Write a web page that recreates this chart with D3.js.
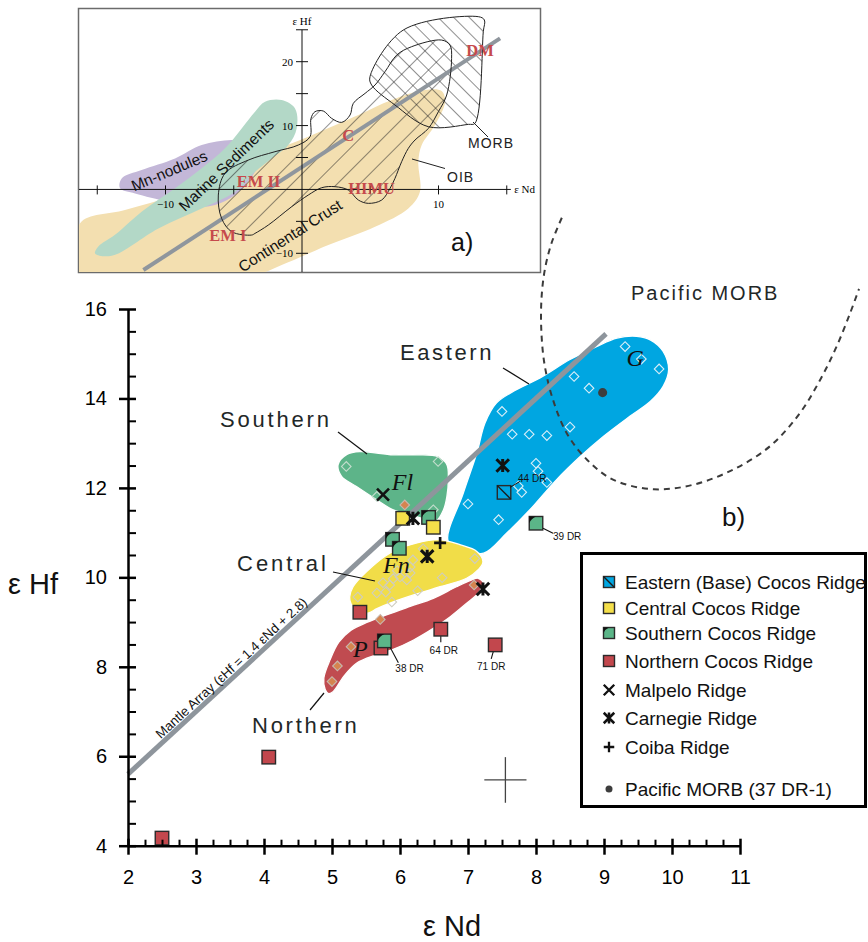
<!DOCTYPE html>
<html><head><meta charset="utf-8">
<script src="https://cdn.jsdelivr.net/npm/d3@7"></script>
<style>body{margin:0;background:#fff}svg{display:block}text{font-family:"Liberation Sans",Arial,sans-serif}</style>
</head><body><svg id="c" width="868" height="942"></svg>
<script>
// ---------------- DATA (εNd, εHf) ----------------
const xTicks = [2,3,4,5,6,7,8,9,10,11];
const yTicks = [4,6,8,10,12,14,16];

const regionEastern = [[6.71,10.80],[6.93,11.88],[7.13,12.78],[7.25,13.45],[7.42,13.90],[7.67,14.16],[8.06,14.46],[8.50,14.87],[8.89,15.16],[9.19,15.35],[9.48,15.39],[9.68,15.31],[9.87,15.05],[9.95,14.64],[9.87,14.27],[9.68,13.93],[9.38,13.60],[8.99,13.15],[8.65,12.70],[8.30,12.18],[7.91,11.51],[7.57,10.99],[7.23,10.54],[6.96,10.62]];
const regionSouthern = [[5.09,12.52],[5.22,12.75],[5.41,12.81],[5.90,12.74],[6.25,12.74],[6.56,12.70],[6.69,12.52],[6.71,12.18],[6.69,11.81],[6.64,11.51],[6.53,11.26],[6.39,11.29],[6.15,11.40],[5.90,11.51],[5.66,11.73],[5.36,12.03],[5.14,12.26]];
const regionCentral = [[5.26,9.56],[5.31,9.79],[5.51,10.13],[5.85,10.54],[6.25,10.77],[6.59,10.84],[6.88,10.73],[7.13,10.58],[7.22,10.35],[7.15,10.17],[6.98,9.98],[6.59,9.79],[6.25,9.63],[5.90,9.45],[5.66,9.30],[5.53,9.20],[5.38,9.25],[5.28,9.41]];
const regionNorthern = [[4.90,7.49],[4.88,7.75],[4.97,8.15],[5.10,8.55],[5.28,8.82],[5.51,8.99],[5.80,9.16],[6.15,9.35],[6.49,9.53],[6.83,9.79],[7.05,9.94],[7.15,9.98],[7.23,9.87],[7.20,9.76],[7.13,9.61],[6.98,9.42],[6.74,9.12],[6.49,8.86],[6.20,8.60],[5.90,8.39],[5.66,8.27],[5.36,8.08],[5.17,7.78],[5.02,7.45],[4.95,7.40]];

const easternField = [[9.31,15.16],[9.55,14.88],[9.81,14.66],[8.56,14.49],[8.78,14.23],[7.50,13.71],[7.65,13.20],[7.90,13.20],[8.16,13.17],[8.50,13.36],[8.00,12.55],[8.03,12.37],[8.16,12.12],[7.74,12.04],[7.79,11.90],[7.00,11.64],[7.45,11.29]];
const centralField = [[5.38,9.56],[5.66,9.65],[5.79,9.67],[5.75,9.88],[5.90,9.97],[6.00,10.01],[6.10,9.94],[6.15,10.10],[6.26,9.70],[6.62,9.99],[5.88,9.45],[6.15,10.23],[6.19,10.39],[6.34,10.64],[7.10,10.42],[5.96,10.15],[5.85,9.83]];
const southernField = [[5.21,12.48],[6.56,12.59],[5.66,11.81],[6.49,11.51]];
const northernField = [[5.00,7.67],[5.08,8.02],[5.28,8.45],[5.71,9.06],[7.09,9.83],[6.07,11.62]];

const easternBase = [{nd:7.53,hf:11.90,label:"44 DR"}];
const centralCocos = [{nd:6.04,hf:11.32},{nd:6.49,hf:11.12}];
const southernCocos = [{nd:6.42,hf:11.34},{nd:5.89,hf:10.85},{nd:5.99,hf:10.65},{nd:5.77,hf:8.58,label:"38 DR"},{nd:8.00,hf:11.21,label:"39 DR"}];
const northernCocos = [{nd:5.41,hf:9.22},{nd:5.72,hf:8.42},{nd:6.60,hf:8.84,label:"64 DR"},{nd:7.40,hf:8.49,label:"71 DR"},{nd:4.07,hf:5.98},{nd:2.50,hf:4.17}];
const malpelo = [{nd:5.75,hf:11.85}];
const carnegie = [{nd:6.19,hf:11.32},{nd:6.40,hf:10.47},{nd:7.51,hf:12.50},{nd:7.22,hf:9.74}];
const coiba = [{nd:6.59,hf:10.77}];
const pacificMorb = [{nd:8.98,hf:14.13}];

const pacificMorbBoundary = [[8.38,18.04],[8.23,17.48],[8.13,16.88],[8.08,16.21],[8.08,15.46],[8.13,14.72],[8.25,13.97],[8.45,13.23],[8.75,12.63],[9.14,12.18],[9.73,11.97],[10.31,12.07],[10.90,12.41],[11.44,12.93],[11.88,13.67],[12.18,14.42],[12.42,15.16],[12.62,15.91],[12.75,16.45]];
const mantleArray = {slope:1.4, intercept:2.8, ndMin:2, ndMax:9.03};
const errorBar = {nd:7.55, hf:5.47, dNd:0.31, dHf:0.51};

const legendItems = ["Eastern (Base) Cocos Ridge","Central Cocos Ridge","Southern Cocos Ridge","Northern Cocos Ridge","Malpelo Ridge","Carnegie Ridge","Coiba Ridge","Pacific MORB (37 DR-1)"];
const legendKinds = ["eastern","central","southern","northern","malpelo","carnegie","coiba","dot"];

// Inset (a) data
const insetTicksX = [-15,-10,-5,5,10,15];
const insetTicksY = [-10,-5,5,10,15,20,25];
const insetTan = [[-16.26,-5.31],[-12.97,-3.23],[-9.30,-0.88],[-6.13,2.25],[-2.95,5.38],[0.46,8.26],[4.13,11.65],[6.57,14.0],[9.01,15.56],[10.23,15.40],[10.48,13.74],[9.74,10.08],[8.77,6.95],[8.52,4.34],[8.64,-0.35],[7.79,-2.97],[5.35,-5.84],[1.93,-8.70],[-1.49,-11.84],[-3.44,-13.41],[-10,-14.5],[-16.26,-14.5]];
const insetSediments = [[-15.16,-10.03],[-13.94,-10.39],[-10.52,-6.10],[-7.35,-2.97],[-4.91,-0.35],[-3.44,2.78],[-2.22,4.86],[-1.00,6.95],[-0.39,9.56],[-0.51,12.69],[-1.49,14.0],[-2.71,13.74],[-3.44,12.17],[-4.42,9.56],[-5.64,6.43],[-7.35,3.30],[-9.30,0.17],[-11.75,-3.49],[-13.70,-7.11],[-14.92,-8.94]];
const insetNodules = [[-13.21,1.73],[-13.33,0.17],[-12.23,-0.62],[-9.79,-1.92],[-7.84,-2.71],[-6.37,-2.45],[-4.91,-0.88],[-3.44,2.78],[-2.95,5.38],[-3.44,7.47],[-5.15,7.73],[-7.35,6.95],[-9.30,4.86],[-11.75,3.04]];
const insetOIB = [[-3.69,-7.14],[-5.15,-6.62],[-5.89,-4.53],[-6.13,-0.88],[-5.64,2.52],[-3.93,4.60],[-1.98,5.91],[-0.27,6.95],[0.59,8.26],[0.66,11.13],[0.95,12.17],[1.56,12.28],[2.17,11.13],[2.91,10.50],[3.52,11.65],[3.76,13.48],[4.62,15.04],[5.35,16.35],[6.08,18.43],[6.94,21.04],[8.03,22.35],[10.23,23.39],[10.84,22.61],[10.96,20.52],[10.60,14.78],[9.99,12.17],[9.26,9.56],[8.28,7.74],[7.79,6.43],[7.30,4.34],[6.81,1.73],[6.45,0.17],[5.84,-1.66],[4.86,-2.18],[4.13,-1.66],[3.39,-0.09],[2.42,0.43],[1.44,0.27],[0.46,-0.88],[-0.76,-2.71],[-2.47,-5.58],[-3.44,-6.88]];
const insetMORB = [[4.98,17.65],[7.42,24.96],[12.92,27.05],[13.36,26.53],[13.28,24.70],[12.67,10.35],[12.19,10.19],[9.26,9.82],[6.81,13.22],[5.10,16.35]];
const insetArray = [[-11.62,-12.62],[14.51,23.65]];
const insetEndmembers = [{name:"DM",nd:13.04,hf:21.72},{name:"C",nd:3.38,hf:8.40},{name:"EM II",nd:-3.18,hf:1.21},{name:"HIMU",nd:5.1,hf:0.17},{name:"EM I",nd:-5.44,hf:-7.14}];

// ---------------- DRAW ----------------
const svg = d3.select("#c");
const defs = svg.append("defs");
const x = d3.scaleLinear().domain([2,11]).range([128,740]);
const y = d3.scaleLinear().domain([4,16]).range([845.7,309]);

const C = {blue:"#00a6e1", green:"#5db489", yellow:"#f1dd48", red:"#c04b50",
           sqYellow:"#f4df4a", sqGreen:"#5bb588", sqRed:"#c2474d", sqBlue:"#00a6e1"};

// ---- Inset (a) ----
const xi = d3.scaleLinear().domain([-10,10]).range([165.5,438.5]);
const yi = d3.scaleLinear().domain([-10,20]).range([253.3,61.7]);
defs.append("clipPath").attr("id","insetClip").append("rect").attr("x",79).attr("y",9).attr("width",461).attr("height",263);
function hatch(id, angle, gap){
  const p = defs.append("pattern").attr("id",id).attr("patternUnits","userSpaceOnUse")
    .attr("width",gap).attr("height",gap).attr("patternTransform",`rotate(${angle})`);
  p.append("line").attr("x1",0).attr("y1",0).attr("x2",0).attr("y2",gap).attr("stroke","#222").attr("stroke-width",1);
}
hatch("hOIB",45,16);
hatch("hMORB",-45,11);

svg.append("rect").attr("x",78.5).attr("y",8.5).attr("width",462).attr("height",264)
  .attr("fill","#fff").attr("stroke","#6b6b6b").attr("stroke-width",1.5);
const inset = svg.append("g").attr("clip-path","url(#insetClip)");
const iline = d3.line().x(d=>xi(d[0])).y(d=>yi(d[1])).curve(d3.curveCatmullRomClosed.alpha(0.5));
inset.append("path").attr("d",iline(insetTan)).attr("fill","#f3dfb0");
inset.append("path").attr("d",iline(insetNodules)).attr("fill","#c3b7d8");
inset.append("path").attr("d",iline(insetSediments)).attr("fill","#b3d8c7");
inset.append("path").attr("d",iline(insetOIB)).attr("fill","url(#hOIB)");
inset.append("path").attr("d",iline(insetMORB)).attr("fill","url(#hMORB)");
inset.append("line").attr("x1",xi(insetArray[0][0])).attr("y1",yi(insetArray[0][1]))
  .attr("x2",xi(insetArray[1][0])).attr("y2",yi(insetArray[1][1]))
  .attr("stroke","#8f969d").attr("stroke-width",4);
inset.append("path").attr("d",iline(insetOIB)).attr("fill","none").attr("stroke","#222").attr("stroke-width",1);
inset.append("path").attr("d",iline(insetMORB)).attr("fill","none").attr("stroke","#222").attr("stroke-width",1);
// inset axes
inset.append("line").attr("x1",xi(-16.6)).attr("x2",xi(15.3)).attr("y1",yi(0)).attr("y2",yi(0)).attr("stroke","#111").attr("stroke-width",1);
inset.append("line").attr("x1",xi(0)).attr("x2",xi(0)).attr("y1",yi(25)).attr("y2",yi(-14)).attr("stroke","#111").attr("stroke-width",1);
insetTicksX.forEach(v=>inset.append("line").attr("x1",xi(v)).attr("x2",xi(v)).attr("y1",yi(0)-4).attr("y2",yi(0)+5).attr("stroke","#111"));
insetTicksY.forEach(v=>inset.append("line").attr("y1",yi(v)).attr("y2",yi(v)).attr("x1",xi(0)-6).attr("x2",xi(0)+6).attr("stroke","#111"));
const serif = '"Liberation Serif","Times New Roman",serif';
[[20],[10],[-10]].forEach(([v])=>inset.append("text").attr("x",xi(0)-9).attr("y",yi(v)+4).attr("text-anchor","end")
  .style("font-family",serif).style("font-size","11px").text(v<0?"−"+Math.abs(v):v));
[-10,10].forEach(v=>inset.append("text").attr("x",xi(v)).attr("y",yi(0)+19).attr("text-anchor","middle")
  .style("font-family",serif).style("font-size","11px").text(v<0?"−"+Math.abs(v):v));
inset.append("text").attr("x",xi(0)).attr("y",yi(25)-5).attr("text-anchor","middle").style("font-family",serif).style("font-size","11px").text("ε Hf");
inset.append("text").attr("x",xi(15.4)+2).attr("y",yi(0)+4).style("font-family",serif).style("font-size","11px").text("ε Nd");
// inset labels
function rotLabel(g, nd, hf, ang, txt){
  g.append("text").attr("transform",`translate(${xi(nd)},${yi(hf)}) rotate(${ang})`)
   .attr("text-anchor","middle").attr("dominant-baseline","central")
   .style("font-size","15.5px").attr("fill","#111").text(txt);
}
rotLabel(inset,-9.72,2.93,-22.9,"Mn-nodules");
rotLabel(inset,-5.55,3.82,-43.9,"Marine Sediments");
rotLabel(inset,-0.88,-7.23,-32.8,"Continental Crust");
insetEndmembers.forEach(e=>inset.append("text").attr("x",xi(e.nd)).attr("y",yi(e.hf))
  .attr("text-anchor","middle").attr("dominant-baseline","central")
  .style("font-family",serif).style("font-weight","bold").style("font-size","16.5px").attr("fill","#c64a4c").text(e.name));
inset.append("line").attr("x1",473).attr("y1",122).attr("x2",488).attr("y2",137).attr("stroke","#222");
inset.append("text").attr("x",468).attr("y",148).style("font-size","14px").style("letter-spacing","1px").attr("fill","#222").text("MORB");
inset.append("line").attr("x1",412).attr("y1",159).attr("x2",445).attr("y2",168.5).attr("stroke","#222");
inset.append("text").attr("x",447).attr("y",182).style("font-size","14px").style("letter-spacing","1px").attr("fill","#222").text("OIB");
inset.append("text").attr("x",451).attr("y",251).style("font-size","25px").attr("fill","#111").text("a)");

// ---- Main plot ----
const rline = d3.line().x(d=>x(d[0])).y(d=>y(d[1])).curve(d3.curveCatmullRomClosed.alpha(0.5));
const plot = svg.append("g");
[[regionEastern,C.blue],[regionSouthern,C.green],[regionCentral,C.yellow],[regionNorthern,C.red]].forEach(([r,c])=>{
  plot.append("path").attr("d",rline(r)).attr("fill",c).attr("stroke","#fff").attr("stroke-width",1.3);
});
const diamond = d3.symbol(d3.symbolSquare, 46);
function diamonds(data, fill, stroke){
  plot.selectAll(null).data(data).join("path").attr("d",diamond)
    .attr("transform",d=>`translate(${x(d[0])},${y(d[1])}) rotate(45)`)
    .attr("fill",fill).attr("stroke",stroke).attr("stroke-width",1.1);
}
diamonds(easternField,"none","#d9eef8");
diamonds(centralField,"none","#cfcdbf");
diamonds(southernField,"none","#c4ddcd");
diamonds(northernField,"#d5844f","#c8b7ae");

// Pacific MORB boundary
plot.append("path").attr("d",d3.line().x(d=>x(d[0])).y(d=>y(d[1])).curve(d3.curveCatmullRom.alpha(0.5))(pacificMorbBoundary))
  .attr("fill","none").attr("stroke","#3b3b3b").attr("stroke-width",2).attr("stroke-dasharray","6,5");

// Mantle array
const ma = d=>mantleArray.slope*d+mantleArray.intercept;
const p1=[x(mantleArray.ndMin),y(ma(mantleArray.ndMin))], p2=[x(mantleArray.ndMax),y(ma(mantleArray.ndMax))];
plot.append("line").attr("x1",p1[0]).attr("y1",p1[1]).attr("x2",p2[0]).attr("y2",p2[1])
  .attr("stroke","#8e959c").attr("stroke-width",5);
const ang = Math.atan2(p2[1]-p1[1],p2[0]-p1[0])*180/Math.PI;
plot.append("text").attr("transform",`translate(${x(3.6)},${y(ma(3.6))}) rotate(${ang})`)
  .attr("x",0).attr("y",-8).attr("text-anchor","middle").attr("dominant-baseline","central")
  .style("font-size","13.3px").attr("fill","#111").text("Mantle Array (εHf = 1.4 εNd + 2.8)");

// Error cross
plot.append("line").attr("x1",x(errorBar.nd-errorBar.dNd)).attr("x2",x(errorBar.nd+errorBar.dNd)).attr("y1",y(errorBar.hf)).attr("y2",y(errorBar.hf)).attr("stroke","#444").attr("stroke-width",1.3);
plot.append("line").attr("x1",x(errorBar.nd)).attr("x2",x(errorBar.nd)).attr("y1",y(errorBar.hf-errorBar.dHf)).attr("y2",y(errorBar.hf+errorBar.dHf)).attr("stroke","#444").attr("stroke-width",1.3);

// Region labels
function regionLabel(txt, px, py, ls, fs){
  plot.append("text").attr("x",px).attr("y",py).style("font-size",fs+"px").style("letter-spacing",ls+"px").attr("fill","#1f2828").text(txt);
}
regionLabel("Eastern",400,359.5,2.6,22);
regionLabel("Southern",220,426.5,2.8,22);
regionLabel("Central",237,571,3.0,22);
regionLabel("Northern",252,733,2.75,22);
regionLabel("Pacific MORB",631,300,2,20);
[[503,368,529,384],[338,432,367,454],[333,572,375,581],[310,710,324,693]].forEach(l=>
  plot.append("line").attr("x1",l[0]).attr("y1",l[1]).attr("x2",l[2]).attr("y2",l[3]).attr("stroke","#111").attr("stroke-width",1.2));
plot.append("text").attr("x",722).attr("y",526).style("font-size","26px").attr("fill","#111").text("b)");
// italic field names
[["G",9.33,14.72],["Fl",5.88,11.96],["Fn",5.75,10.10],["P",5.31,8.23]].forEach(([t,nd,hf])=>
  plot.append("text").attr("x",x(nd)).attr("y",y(hf)).style("font-family",serif).style("font-style","italic").style("font-size","24px").attr("fill","#111").text(t));

// ---- Markers ----
function drawSymbol(g, kind, cx, cy, s){
  const h=s/2;
  if(["eastern","central","southern","northern"].includes(kind)){
    const fill={eastern:C.sqBlue,central:C.sqYellow,southern:C.sqGreen,northern:C.sqRed}[kind];
    g.append("rect").attr("x",cx-h).attr("y",cy-h).attr("width",s).attr("height",s).attr("fill",fill).attr("stroke","#2a2a2a").attr("stroke-width",1.4);
    if(kind==="eastern") g.append("line").attr("x1",cx-h).attr("y1",cy-h).attr("x2",cx+h).attr("y2",cy+h).attr("stroke","#1a1a1a").attr("stroke-width",1.4);
    if(kind==="southern") g.append("path").attr("d",`M${cx-h},${cy-h}L${cx-h+s*0.5},${cy-h}Q${cx-h+s*0.15},${cy-h+s*0.15} ${cx-h},${cy-h+s*0.5}Z`).attr("fill","#111");
  } else if(kind==="malpelo"){
    g.append("path").attr("d",`M${cx-h},${cy-h}L${cx+h},${cy+h}M${cx+h},${cy-h}L${cx-h},${cy+h}`).attr("stroke","#111").attr("stroke-width",s*0.22);
  } else if(kind==="carnegie"){
    g.append("path").attr("d",`M${cx-h},${cy-h}L${cx+h},${cy+h}M${cx+h},${cy-h}L${cx-h},${cy+h}M${cx},${cy-h*1.05}L${cx},${cy+h*1.05}`).attr("stroke","#111").attr("stroke-width",s*0.24);
  } else if(kind==="coiba"){
    g.append("path").attr("d",`M${cx-h},${cy}L${cx+h},${cy}M${cx},${cy-h}L${cx},${cy+h}`).attr("stroke","#111").attr("stroke-width",s*0.22);
  } else if(kind==="dot"){
    g.append("circle").attr("cx",cx).attr("cy",cy).attr("r",s*0.35).attr("fill","#3d3d3d");
  }
}
const mk = svg.append("g");
northernCocos.forEach(d=>drawSymbol(mk,"northern",x(d.nd),y(d.hf),13.5));
southernCocos.forEach(d=>drawSymbol(mk,"southern",x(d.nd),y(d.hf),13.5));
centralCocos.forEach(d=>drawSymbol(mk,"central",x(d.nd),y(d.hf),13.5));
easternBase.forEach(d=>drawSymbol(mk,"eastern",x(d.nd),y(d.hf),13.5));
malpelo.forEach(d=>drawSymbol(mk,"malpelo",x(d.nd),y(d.hf),12));
carnegie.forEach(d=>drawSymbol(mk,"carnegie",x(d.nd),y(d.hf),12.5));
coiba.forEach(d=>drawSymbol(mk,"coiba",x(d.nd),y(d.hf),12));
pacificMorb.forEach(d=>drawSymbol(mk,"dot",x(d.nd),y(d.hf),13));

// sample labels (leader offsets in px)
const drOffsets = {"44 DR":{l:[6,-5,16,-11],t:[14,-10,"start"]},"38 DR":{l:[6,7,14,22],t:[11,31,"start"]},
  "39 DR":{l:[7,5,17,10],t:[17,17,"start"]},"64 DR":{l:[0,7,0,13],t:[3,25,"middle"]},"71 DR":{l:[-2,7,-4,14],t:[-4,25,"middle"]}};
[...easternBase,...southernCocos,...northernCocos].filter(d=>d.label).forEach(d=>{
  const o=drOffsets[d.label], cx=x(d.nd), cy=y(d.hf);
  mk.append("line").attr("x1",cx+o.l[0]).attr("y1",cy+o.l[1]).attr("x2",cx+o.l[2]).attr("y2",cy+o.l[3]).attr("stroke","#111").attr("stroke-width",1.1);
  mk.append("text").attr("x",cx+o.t[0]).attr("y",cy+o.t[1]).attr("text-anchor",o.t[2]).style("font-size","10px").attr("fill","#111").text(d.label);
});

// ---- Axes ----
const ax = svg.append("g").attr("transform",`translate(0,${y(4)})`)
  .call(d3.axisBottom(x).tickValues(xTicks).tickSize(9).tickSizeOuter(0).tickPadding(15).tickFormat(d3.format("d")));
ax.selectAll(".tick line").attr("y1",-7).attr("stroke-width",2.5);
ax.select(".domain").attr("stroke-width",2.5);
ax.selectAll("text").style("font-size","20px").style("font-family","Liberation Sans, Arial").attr("fill","#000");
const axm = svg.append("g").attr("transform",`translate(0,${y(4)})`)
  .call(d3.axisBottom(x).tickValues(d3.range(2,11.001,0.25).filter(v=>v%1!==0)).tickSize(-6).tickFormat(""));
axm.select(".domain").remove(); axm.selectAll(".tick line").attr("stroke-width",2);
const ay = svg.append("g").attr("transform",`translate(${x(2)},0)`)
  .call(d3.axisLeft(y).tickValues(yTicks).tickSize(9).tickSizeOuter(0).tickPadding(12).tickFormat(d3.format("d")));
ay.selectAll(".tick line").attr("x1",8).attr("stroke-width",2.5);
ay.select(".domain").attr("stroke-width",2.5);
ay.selectAll("text").style("font-size","20px").style("font-family","Liberation Sans, Arial").attr("fill","#000");
const aym = svg.append("g").attr("transform",`translate(${x(2)},0)`)
  .call(d3.axisLeft(y).tickValues(d3.range(4.5,16,0.5).filter(v=>v%2!==0)).tickSize(-8).tickFormat(""));
aym.select(".domain").remove(); aym.selectAll(".tick line").attr("stroke-width",2);
svg.append("text").attr("x",8).attr("y",594).style("font-size","29px").attr("fill","#111").text("ε Hf");
svg.append("text").attr("x",423).attr("y",936).style("font-size","29px").attr("fill","#111").text("ε Nd");

// ---- Legend ----
const lg = svg.append("g");
lg.append("rect").attr("x",581.5).attr("y",553.5).attr("width",284).attr("height",253).attr("fill","#fff").attr("stroke","#000").attr("stroke-width",3);
const rowY = [582,608,633,661,690,718,747,789];
legendItems.forEach((t,i)=>{
  drawSymbol(lg, legendKinds[i], 609, rowY[i], legendKinds[i]==="dot"?10:(i<4?11:10.5));
  lg.append("text").attr("x",625).attr("y",rowY[i]+7).style("font-size","19px").attr("fill","#111").text(t);
});
</script></body></html>
